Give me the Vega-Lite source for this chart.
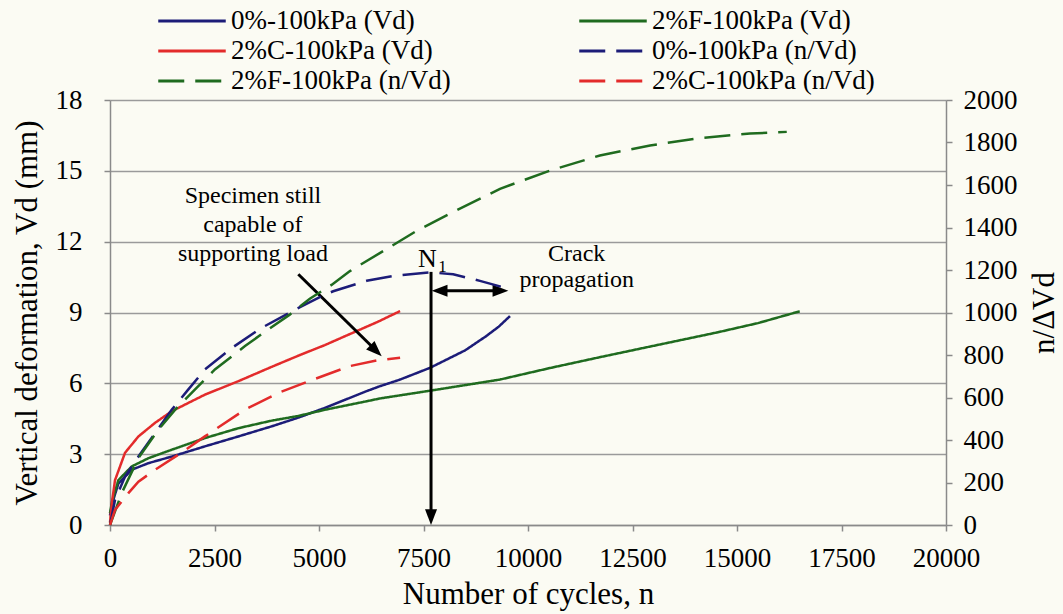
{
  "$schema": "https://vega.github.io/schema/vega-lite/v6.json",
  "width": 836,
  "height": 425,
  "autosize": {"type": "none"},
  "padding": {"left": 110, "top": 100, "right": 117, "bottom": 89},
  "background": "#fbfbf3",
  "config": {
    "view": {"stroke": null},
    "font": "Liberation Serif",
    "axis": {
      "labelFont": "Liberation Serif", "titleFont": "Liberation Serif",
      "labelFontSize": 27, "titleFontSize": 31, "titleFontWeight": "normal",
      "labelColor": "black", "titleColor": "black",
      "domainColor": "#8a8a8a", "domainWidth": 1.5,
      "tickColor": "#8a8a8a", "tickWidth": 1.5, "tickSize": 6,
      "gridColor": "#9a9a9a", "gridWidth": 1.5
    },
    "legend": {
      "orient": "none", "legendX": 67, "legendY": -94, "columns": 2, "direction": "horizontal",
      "symbolType": "M-2.5,0H2.5", "symbolSize": 729, "symbolStrokeWidth": 3,
      "labelFont": "Liberation Serif", "labelFontSize": 27, "labelColor": "black",
      "labelLimit": 400, "columnPadding": 122, "rowPadding": 2, "labelOffset": 24
    }
  },
  "datasets": {
    "vd": [
      {"s": "0%-100kPa (Vd)", "n": 0, "v": 0.4},
      {"s": "0%-100kPa (Vd)", "n": 50, "v": 0.9},
      {"s": "0%-100kPa (Vd)", "n": 200, "v": 1.75},
      {"s": "0%-100kPa (Vd)", "n": 520, "v": 2.34},
      {"s": "0%-100kPa (Vd)", "n": 920, "v": 2.62},
      {"s": "0%-100kPa (Vd)", "n": 1480, "v": 2.9},
      {"s": "0%-100kPa (Vd)", "n": 2270, "v": 3.33},
      {"s": "0%-100kPa (Vd)", "n": 3070, "v": 3.75},
      {"s": "0%-100kPa (Vd)", "n": 3870, "v": 4.18},
      {"s": "0%-100kPa (Vd)", "n": 4510, "v": 4.55},
      {"s": "0%-100kPa (Vd)", "n": 5140, "v": 4.96},
      {"s": "0%-100kPa (Vd)", "n": 6140, "v": 5.67},
      {"s": "0%-100kPa (Vd)", "n": 6460, "v": 5.88},
      {"s": "0%-100kPa (Vd)", "n": 6940, "v": 6.16},
      {"s": "0%-100kPa (Vd)", "n": 7660, "v": 6.66},
      {"s": "0%-100kPa (Vd)", "n": 8500, "v": 7.4},
      {"s": "0%-100kPa (Vd)", "n": 9000, "v": 8.0},
      {"s": "0%-100kPa (Vd)", "n": 9300, "v": 8.4},
      {"s": "0%-100kPa (Vd)", "n": 9570, "v": 8.85},
      {"s": "2%F-100kPa (Vd)", "n": 0, "v": 0.5},
      {"s": "2%F-100kPa (Vd)", "n": 50, "v": 1.0},
      {"s": "2%F-100kPa (Vd)", "n": 200, "v": 1.9},
      {"s": "2%F-100kPa (Vd)", "n": 520, "v": 2.48},
      {"s": "2%F-100kPa (Vd)", "n": 920, "v": 2.83},
      {"s": "2%F-100kPa (Vd)", "n": 1480, "v": 3.19},
      {"s": "2%F-100kPa (Vd)", "n": 2270, "v": 3.68},
      {"s": "2%F-100kPa (Vd)", "n": 3070, "v": 4.1},
      {"s": "2%F-100kPa (Vd)", "n": 3870, "v": 4.42},
      {"s": "2%F-100kPa (Vd)", "n": 4510, "v": 4.62},
      {"s": "2%F-100kPa (Vd)", "n": 5140, "v": 4.88},
      {"s": "2%F-100kPa (Vd)", "n": 6140, "v": 5.24},
      {"s": "2%F-100kPa (Vd)", "n": 6460, "v": 5.36},
      {"s": "2%F-100kPa (Vd)", "n": 7700, "v": 5.7},
      {"s": "2%F-100kPa (Vd)", "n": 9330, "v": 6.16},
      {"s": "2%F-100kPa (Vd)", "n": 10530, "v": 6.65},
      {"s": "2%F-100kPa (Vd)", "n": 11700, "v": 7.1},
      {"s": "2%F-100kPa (Vd)", "n": 12900, "v": 7.55},
      {"s": "2%F-100kPa (Vd)", "n": 14510, "v": 8.15},
      {"s": "2%F-100kPa (Vd)", "n": 15500, "v": 8.55},
      {"s": "2%F-100kPa (Vd)", "n": 16500, "v": 9.05},
      {"s": "2%C-100kPa (Vd)", "n": 0, "v": 0.1},
      {"s": "2%C-100kPa (Vd)", "n": 50, "v": 1.0},
      {"s": "2%C-100kPa (Vd)", "n": 120, "v": 1.9},
      {"s": "2%C-100kPa (Vd)", "n": 360, "v": 3.06},
      {"s": "2%C-100kPa (Vd)", "n": 680, "v": 3.75},
      {"s": "2%C-100kPa (Vd)", "n": 1080, "v": 4.33},
      {"s": "2%C-100kPa (Vd)", "n": 1480, "v": 4.82},
      {"s": "2%C-100kPa (Vd)", "n": 2270, "v": 5.52},
      {"s": "2%C-100kPa (Vd)", "n": 3070, "v": 6.09},
      {"s": "2%C-100kPa (Vd)", "n": 3870, "v": 6.7},
      {"s": "2%C-100kPa (Vd)", "n": 4545, "v": 7.2},
      {"s": "2%C-100kPa (Vd)", "n": 5140, "v": 7.62},
      {"s": "2%C-100kPa (Vd)", "n": 5820, "v": 8.15},
      {"s": "2%C-100kPa (Vd)", "n": 6400, "v": 8.6},
      {"s": "2%C-100kPa (Vd)", "n": 6940, "v": 9.06}
    ],
    "nvd": [
      {"s": "0%-100kPa (n/Vd)", "n": 0, "v": 0},
      {"s": "0%-100kPa (n/Vd)", "n": 120, "v": 118},
      {"s": "0%-100kPa (n/Vd)", "n": 360, "v": 228},
      {"s": "0%-100kPa (n/Vd)", "n": 680, "v": 322},
      {"s": "0%-100kPa (n/Vd)", "n": 1080, "v": 433},
      {"s": "0%-100kPa (n/Vd)", "n": 1480, "v": 543},
      {"s": "0%-100kPa (n/Vd)", "n": 1870, "v": 637},
      {"s": "0%-100kPa (n/Vd)", "n": 2270, "v": 732},
      {"s": "0%-100kPa (n/Vd)", "n": 2930, "v": 835},
      {"s": "0%-100kPa (n/Vd)", "n": 3600, "v": 925},
      {"s": "0%-100kPa (n/Vd)", "n": 4545, "v": 1025},
      {"s": "0%-100kPa (n/Vd)", "n": 5100, "v": 1080},
      {"s": "0%-100kPa (n/Vd)", "n": 5340, "v": 1100},
      {"s": "0%-100kPa (n/Vd)", "n": 6140, "v": 1149},
      {"s": "0%-100kPa (n/Vd)", "n": 6780, "v": 1172},
      {"s": "0%-100kPa (n/Vd)", "n": 7650, "v": 1189},
      {"s": "0%-100kPa (n/Vd)", "n": 8210, "v": 1180},
      {"s": "0%-100kPa (n/Vd)", "n": 8850, "v": 1149},
      {"s": "0%-100kPa (n/Vd)", "n": 9570, "v": 1110},
      {"s": "2%F-100kPa (n/Vd)", "n": 0, "v": 0},
      {"s": "2%F-100kPa (n/Vd)", "n": 280, "v": 150},
      {"s": "2%F-100kPa (n/Vd)", "n": 680, "v": 315},
      {"s": "2%F-100kPa (n/Vd)", "n": 1160, "v": 449},
      {"s": "2%F-100kPa (n/Vd)", "n": 1560, "v": 543},
      {"s": "2%F-100kPa (n/Vd)", "n": 2030, "v": 637},
      {"s": "2%F-100kPa (n/Vd)", "n": 2510, "v": 732},
      {"s": "2%F-100kPa (n/Vd)", "n": 3230, "v": 842},
      {"s": "2%F-100kPa (n/Vd)", "n": 3790, "v": 921},
      {"s": "2%F-100kPa (n/Vd)", "n": 4300, "v": 990},
      {"s": "2%F-100kPa (n/Vd)", "n": 4780, "v": 1065},
      {"s": "2%F-100kPa (n/Vd)", "n": 5300, "v": 1130},
      {"s": "2%F-100kPa (n/Vd)", "n": 5740, "v": 1195},
      {"s": "2%F-100kPa (n/Vd)", "n": 6620, "v": 1299},
      {"s": "2%F-100kPa (n/Vd)", "n": 7340, "v": 1385},
      {"s": "2%F-100kPa (n/Vd)", "n": 8130, "v": 1465},
      {"s": "2%F-100kPa (n/Vd)", "n": 9330, "v": 1582},
      {"s": "2%F-100kPa (n/Vd)", "n": 10530, "v": 1668},
      {"s": "2%F-100kPa (n/Vd)", "n": 11720, "v": 1739},
      {"s": "2%F-100kPa (n/Vd)", "n": 12920, "v": 1786},
      {"s": "2%F-100kPa (n/Vd)", "n": 14120, "v": 1821},
      {"s": "2%F-100kPa (n/Vd)", "n": 15310, "v": 1842},
      {"s": "2%F-100kPa (n/Vd)", "n": 16190, "v": 1850},
      {"s": "2%C-100kPa (n/Vd)", "n": 0, "v": 0},
      {"s": "2%C-100kPa (n/Vd)", "n": 120, "v": 71},
      {"s": "2%C-100kPa (n/Vd)", "n": 440, "v": 150},
      {"s": "2%C-100kPa (n/Vd)", "n": 680, "v": 204},
      {"s": "2%C-100kPa (n/Vd)", "n": 1080, "v": 260},
      {"s": "2%C-100kPa (n/Vd)", "n": 1630, "v": 330},
      {"s": "2%C-100kPa (n/Vd)", "n": 2270, "v": 417},
      {"s": "2%C-100kPa (n/Vd)", "n": 3230, "v": 543},
      {"s": "2%C-100kPa (n/Vd)", "n": 4030, "v": 622},
      {"s": "2%C-100kPa (n/Vd)", "n": 4800, "v": 680},
      {"s": "2%C-100kPa (n/Vd)", "n": 5740, "v": 748},
      {"s": "2%C-100kPa (n/Vd)", "n": 6400, "v": 775},
      {"s": "2%C-100kPa (n/Vd)", "n": 6940, "v": 787}
    ],
    "arrows": [
      {"n": 4505, "v": 10.62, "n2": 6364, "v2": 7.39},
      {"n": 7680, "v": 10.72, "n2": 7680, "v2": 0.35},
      {"n": 7886, "v": 9.92, "n2": 9340, "v2": 9.92}
    ],
    "heads": [
      {"n": 6500, "v": 7.15, "d": "diag"},
      {"n": 7680, "v": 0, "d": "down"},
      {"n": 7696, "v": 9.92, "d": "left"},
      {"n": 9530, "v": 9.92, "d": "right"}
    ],
    "notes": [
      {"n": 3420, "v": 13.64, "t": "Specimen still"},
      {"n": 3420, "v": 12.41, "t": "capable of"},
      {"n": 3420, "v": 11.18, "t": "supporting load"},
      {"n": 11165, "v": 11.19, "t": "Crack"},
      {"n": 11165, "v": 10.06, "t": "propagation"}
    ],
    "nlabel": [
      {"n": 7368, "v": 10.92, "t": "N"}
    ],
    "nsub": [
      {"n": 7850, "v": 10.72, "t": "1"}
    ]
  },
  "encoding": {
    "x": {
      "field": "n", "type": "quantitative",
      "scale": {"domain": [0, 20000], "nice": false},
      "title": "Number of cycles, n",
      "axis": {"values": [0, 2500, 5000, 7500, 10000, 12500, 15000, 17500, 20000], "grid": false, "labelPadding": 14, "titlePadding": 8, "format": "d", "labelFlush": false}
    }
  },
  "layer": [
    {
      "encoding": {
        "y": {
          "field": "v", "type": "quantitative",
          "scale": {"domain": [0, 18], "nice": false},
          "title": "Vertical deformation, Vd (mm)",
          "axis": {"values": [0, 3, 6, 9, 12, 15, 18], "grid": true, "labelPadding": 22, "titlePadding": 12, "orient": "left"}
        }
      },
      "layer": [
        {
          "data": {"name": "vd"},
          "mark": {"type": "line", "strokeWidth": 2.5},
          "encoding": {
            "color": {
              "field": "s", "type": "nominal",
              "scale": {
                "domain": ["0%-100kPa (Vd)", "2%F-100kPa (Vd)", "2%C-100kPa (Vd)", "0%-100kPa (n/Vd)", "2%F-100kPa (n/Vd)", "2%C-100kPa (n/Vd)"],
                "range": ["#1c1c78", "#1f6b1f", "#e32b2b", "#1c1c78", "#1f6b1f", "#e32b2b"]
              },
              "legend": {"title": null}
            },
            "strokeDash": {
              "field": "s", "type": "nominal",
              "scale": {
                "domain": ["0%-100kPa (Vd)", "2%F-100kPa (Vd)", "2%C-100kPa (Vd)", "0%-100kPa (n/Vd)", "2%F-100kPa (n/Vd)", "2%C-100kPa (n/Vd)"],
                "range": [[1, 0], [1, 0], [1, 0], [26, 11], [26, 11], [26, 11]]
              },
              "legend": {"title": null}
            }
          }
        },
        {
          "data": {"name": "arrows"},
          "mark": {"type": "rule", "color": "black", "strokeWidth": 3},
          "encoding": {
            "x2": {"field": "n2"},
            "y2": {"field": "v2"}
          }
        },
        {
          "data": {"name": "heads"},
          "transform": [{"filter": "datum.d === 'diag'"}],
          "mark": {"type": "point", "shape": "M0,0L-0.38,1L0.38,1Z", "filled": true, "color": "black", "opacity": 1, "size": 1000, "angle": 134, "strokeWidth": 0},
          "encoding": {}
        },
        {
          "data": {"name": "heads"},
          "transform": [{"filter": "datum.d === 'down'"}],
          "mark": {"type": "point", "shape": "M0,0L-0.38,1L0.38,1Z", "filled": true, "color": "black", "opacity": 1, "size": 1000, "angle": 180, "strokeWidth": 0},
          "encoding": {}
        },
        {
          "data": {"name": "heads"},
          "transform": [{"filter": "datum.d === 'left'"}],
          "mark": {"type": "point", "shape": "M0,0L-0.38,1L0.38,1Z", "filled": true, "color": "black", "opacity": 1, "size": 1000, "angle": 270, "strokeWidth": 0},
          "encoding": {}
        },
        {
          "data": {"name": "heads"},
          "transform": [{"filter": "datum.d === 'right'"}],
          "mark": {"type": "point", "shape": "M0,0L-0.38,1L0.38,1Z", "filled": true, "color": "black", "opacity": 1, "size": 1000, "angle": 90, "strokeWidth": 0},
          "encoding": {}
        },
        {
          "data": {"name": "notes"},
          "mark": {"type": "text", "font": "Liberation Serif", "fontSize": 24, "color": "black", "align": "center", "baseline": "alphabetic"},
          "encoding": {"text": {"field": "t"}}
        },
        {
          "data": {"name": "nlabel"},
          "mark": {"type": "text", "font": "Liberation Serif", "fontSize": 26, "color": "black", "align": "left", "baseline": "alphabetic"},
          "encoding": {"text": {"field": "t"}}
        },
        {
          "data": {"name": "nsub"},
          "mark": {"type": "text", "font": "Liberation Serif", "fontSize": 17, "color": "black", "align": "left", "baseline": "alphabetic"},
          "encoding": {"text": {"field": "t"}}
        }
      ]
    },
    {
      "data": {"name": "nvd"},
      "mark": {"type": "line", "strokeWidth": 2.5},
      "encoding": {
        "y": {
          "field": "v", "type": "quantitative",
          "scale": {"domain": [0, 2000], "nice": false},
          "title": "n/ΔVd",
          "axis": {"orient": "right", "values": [0, 200, 400, 600, 800, 1000, 1200, 1400, 1600, 1800, 2000], "grid": false, "labelPadding": 11, "titlePadding": 12, "titleAngle": 270, "titleBaseline": "top", "format": "d"}
        },
        "color": {
          "field": "s", "type": "nominal",
          "scale": {
            "domain": ["0%-100kPa (Vd)", "2%F-100kPa (Vd)", "2%C-100kPa (Vd)", "0%-100kPa (n/Vd)", "2%F-100kPa (n/Vd)", "2%C-100kPa (n/Vd)"],
            "range": ["#1c1c78", "#1f6b1f", "#e32b2b", "#1c1c78", "#1f6b1f", "#e32b2b"]
          },
          "legend": {"title": null}
        },
        "strokeDash": {
          "field": "s", "type": "nominal",
          "scale": {
            "domain": ["0%-100kPa (Vd)", "2%F-100kPa (Vd)", "2%C-100kPa (Vd)", "0%-100kPa (n/Vd)", "2%F-100kPa (n/Vd)", "2%C-100kPa (n/Vd)"],
            "range": [[1, 0], [1, 0], [1, 0], [26, 11], [26, 11], [26, 11]]
          },
          "legend": {"title": null}
        }
      }
    }
  ],
  "resolve": {"scale": {"y": "independent"}}
}
